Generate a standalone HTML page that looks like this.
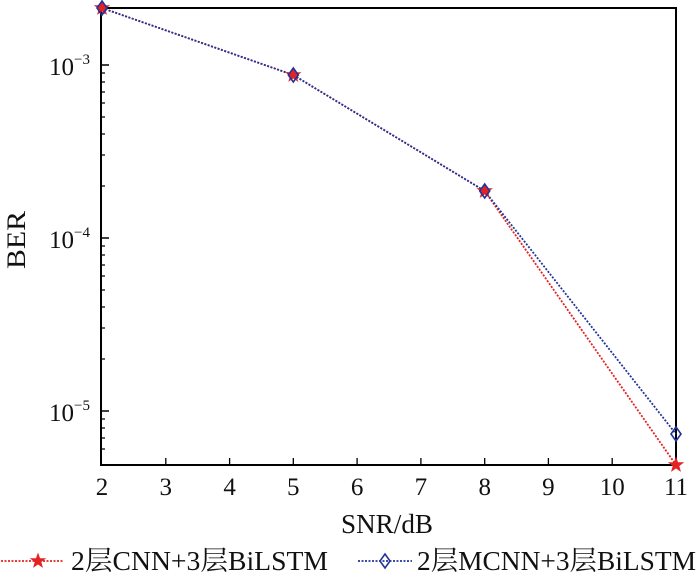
<!DOCTYPE html>
<html><head><meta charset="utf-8"><style>
body{margin:0;background:#fff}
svg text{font-family:"Liberation Serif","Noto Serif CJK SC",serif;fill:#111}
</style></head><body>
<svg width="700" height="580" viewBox="0 0 700 580" xmlns="http://www.w3.org/2000/svg">
<g stroke="#000" stroke-width="1.3">
<path d="M100 65h9M100 238h9M100 411h9" stroke-width="1.5"/>
<path d="M100 13h5M100 73h5M100 82h5M100 92h5M100 103h5M100 117h5M100 134h5M100 155h5M100 186h5M100 246h5M100 255h5M100 265h5M100 276h5M100 290h5M100 307h5M100 328h5M100 359h5M100 419h5M100 428h5M100 438h5M100 449h5"/>
<path d="M165.8 465v-7M229.6 465v-7M293.3 465v-7M357.1 465v-7M420.9 465v-7M484.7 465v-7M548.4 465v-7M612.2 465v-7"/>
</g>
<rect x="101" y="8" width="575" height="457" fill="none" stroke="#000" stroke-width="2"/>
<g font-size="25" text-anchor="middle">
<text x="102" y="495">2</text><text x="165.8" y="495">3</text><text x="229.6" y="495">4</text><text x="293.3" y="495">5</text><text x="357.1" y="495">6</text><text x="420.9" y="495">7</text><text x="484.7" y="495">8</text><text x="548.4" y="495">9</text><text x="612.2" y="495">10</text><text x="676" y="495">11</text>
</g>
<g font-size="25">
<text x="49" y="75">10<tspan font-size="15" dy="-11">−3</tspan></text>
<text x="49" y="248">10<tspan font-size="15" dy="-11">−4</tspan></text>
<text x="49" y="421">10<tspan font-size="15" dy="-11">−5</tspan></text>
</g>
<text x="387" y="533" font-size="27" text-anchor="middle" textLength="92" lengthAdjust="spacingAndGlyphs">SNR/dB</text>
<text transform="translate(25,240) rotate(-90)" font-size="26" text-anchor="middle" textLength="58" lengthAdjust="spacingAndGlyphs">BER</text>
<polyline points="102,8 293.3,75 484.7,191 676,465" fill="none" stroke="#e52222" stroke-width="1.8" stroke-dasharray="2,1.5"/>
<polyline points="102,8 293.3,75 484.7,191 676,434" fill="none" stroke="#223399" stroke-width="1.8" stroke-dasharray="2,1.5"/>
<defs>
<path id="st" d="M0,-7 L1.7,-2.2 6.7,-2.2 2.7,0.8 4.1,5.7 0,2.8 -4.1,5.7 -2.7,0.8 -6.7,-2.2 -1.7,-2.2Z" fill="#e52222" stroke="#e52222"/>
<path id="dm" d="M0,-7 L5,0 0,7 -5,0Z" fill="none" stroke="#223399" stroke-width="1.6"/>
</defs>
<use href="#st" x="102" y="8"/><use href="#st" x="293.3" y="75"/><use href="#st" x="484.7" y="191"/><use href="#st" x="676" y="465"/>
<use href="#dm" x="102" y="8"/><use href="#dm" x="293.3" y="75"/><use href="#dm" x="484.7" y="191"/><use href="#dm" x="676" y="434"/>
<line x1="1" y1="561" x2="63" y2="561" stroke="#e52222" stroke-width="1.8" stroke-dasharray="2,1.5"/>
<use href="#st" x="38" y="561"/>
<text x="71" y="570" font-size="27" textLength="257" lengthAdjust="spacingAndGlyphs">2层CNN+3层BiLSTM</text>
<line x1="358" y1="561" x2="412" y2="561" stroke="#223399" stroke-width="1.8" stroke-dasharray="2,1.5"/>
<use href="#dm" x="385" y="561"/>
<text x="417" y="570" font-size="27" textLength="279" lengthAdjust="spacingAndGlyphs">2层MCNN+3层BiLSTM</text>
</svg>
</body></html>
